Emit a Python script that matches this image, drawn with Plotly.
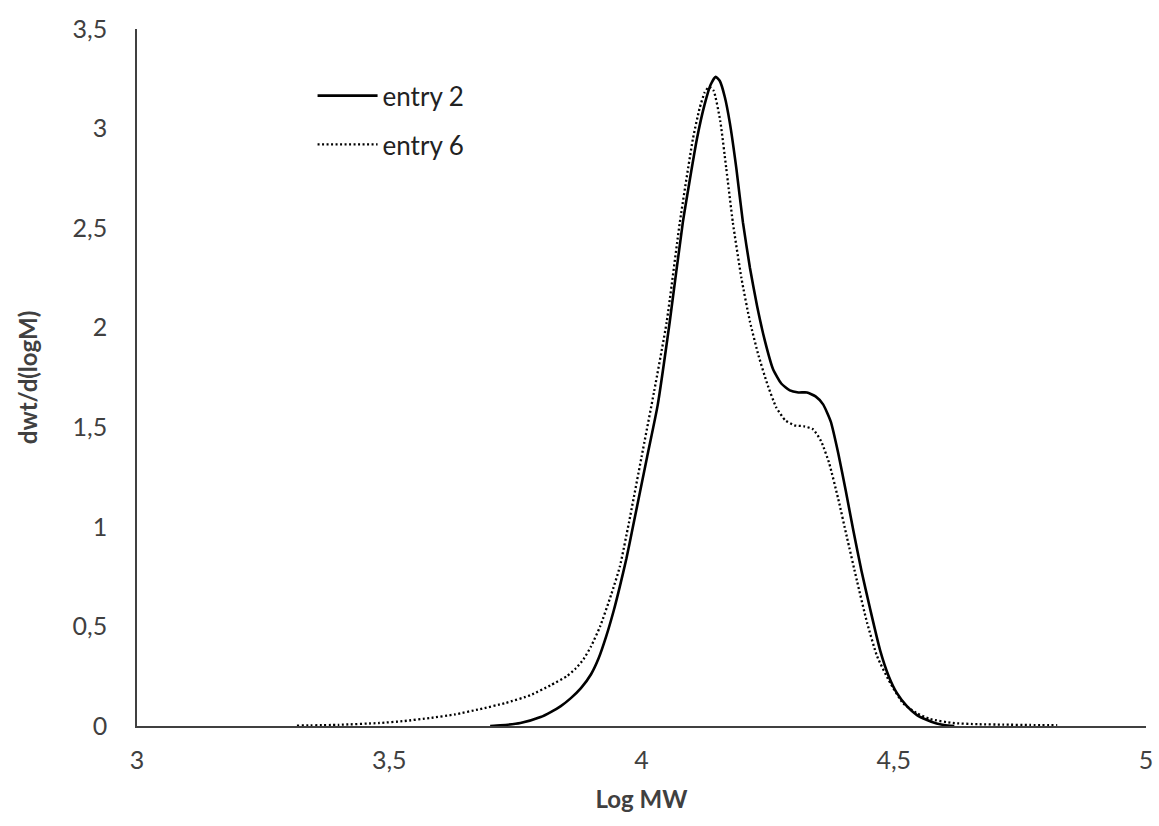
import plotly.graph_objects as go

# entry 2 (solid)
x_e2 = [3.70, 3.72, 3.76, 3.80, 3.82, 3.84, 3.86, 3.88, 3.90, 3.915, 3.93, 3.945, 3.957, 3.97, 3.983,
        4.011, 4.032, 4.056, 4.082, 4.110, 4.125, 4.137, 4.147, 4.155, 4.165, 4.175, 4.188, 4.201,
        4.215, 4.229, 4.245, 4.261, 4.277, 4.294, 4.311, 4.328, 4.345, 4.360, 4.375, 4.390, 4.405,
        4.420, 4.436, 4.453, 4.473, 4.490, 4.506, 4.526, 4.546, 4.566, 4.585, 4.600, 4.620]
y_e2 = [0.0, 0.003, 0.015, 0.045, 0.07, 0.10, 0.14, 0.19, 0.26, 0.34, 0.45, 0.58, 0.70, 0.84, 1.00,
        1.35, 1.61, 2.03, 2.53, 2.95, 3.12, 3.22, 3.26, 3.24, 3.16, 3.03, 2.80, 2.53,
        2.30, 2.11, 1.93, 1.79, 1.72, 1.685, 1.675, 1.675, 1.655, 1.615, 1.53, 1.37, 1.18,
        0.98, 0.78, 0.59, 0.38, 0.25, 0.166, 0.10, 0.055, 0.03, 0.012, 0.005, 0.0]

# entry 6 (dotted)
x_e6 = [3.317, 3.40, 3.48, 3.53, 3.58, 3.63, 3.68, 3.73, 3.78, 3.82, 3.852, 3.87, 3.885, 3.90, 3.918,
        3.94, 3.957, 3.975, 4.000, 4.025, 4.050, 4.076, 4.102, 4.115, 4.125, 4.134, 4.143, 4.156,
        4.168, 4.181, 4.198, 4.215, 4.232, 4.249, 4.267, 4.285, 4.303, 4.322, 4.340, 4.356, 4.372,
        4.390, 4.407, 4.427, 4.447, 4.467, 4.493, 4.518, 4.545, 4.572, 4.617, 4.667, 4.717, 4.77, 4.824]
y_e6 = [0.002, 0.006, 0.015, 0.025, 0.04, 0.058, 0.085, 0.115, 0.155, 0.205, 0.25, 0.29, 0.335, 0.40, 0.50,
        0.66, 0.80, 1.02, 1.35, 1.68, 2.03, 2.53, 2.95, 3.10, 3.18, 3.21, 3.19, 3.04,
        2.80, 2.53, 2.25, 2.03, 1.86, 1.72, 1.60, 1.535, 1.51, 1.505, 1.49, 1.43, 1.32,
        1.14, 0.95, 0.73, 0.52, 0.35, 0.216, 0.116, 0.065, 0.035, 0.015, 0.009, 0.007, 0.005, 0.004]

x_ticks = [3, 3.5, 4, 4.5, 5]
x_ticklabels = ["3", "3,5", "4", "4,5", "5"]
y_ticks = [0, 0.5, 1, 1.5, 2, 2.5, 3, 3.5]
y_ticklabels = ["0", "0,5", "1", "1,5", "2", "2,5", "3", "3,5"]

FONT = "Lato"
TXT = "#404040"

fig = go.Figure()
fig.add_trace(go.Scatter(x=x_e2, y=y_e2, mode="lines", name="entry 2", legendgroup="a",
                         line=dict(color="black", width=2.6, shape="spline", smoothing=0.5)))
fig.add_trace(go.Scatter(x=x_e6, y=y_e6, mode="lines", name="entry 6", legendgroup="b",
                         line=dict(color="black", width=2.3, dash="2px,2.5px", shape="spline", smoothing=0.5)))

fig.update_layout(
    width=1159, height=826,
    margin=dict(l=137, r=13, t=29, b=100),
    plot_bgcolor="white", paper_bgcolor="white",
    font=dict(family=FONT, size=25, color=TXT),
    showlegend=True,
    legend=dict(x=0.174, y=0.938, xanchor="left", yanchor="top", bgcolor="rgba(0,0,0,0)",
                font=dict(family=FONT, size=26, color="#222222"), tracegroupgap=12,
                itemwidth=60),
    xaxis=dict(range=[3, 5], tickvals=x_ticks, ticktext=x_ticklabels, showgrid=False,
               zeroline=False, showline=True, linecolor="#404040", linewidth=1.5,
               ticks="", ticklabelstandoff=11, automargin=False,
               title=dict(text="<b>Log MW</b>", font=dict(family=FONT, size=24, color=TXT), standoff=18)),
    yaxis=dict(range=[0, 3.5], tickvals=y_ticks, ticktext=y_ticklabels, showgrid=False,
               zeroline=False, showline=True, linecolor="#404040", linewidth=1.5,
               ticks="", ticklabelstandoff=23, automargin=False,
               title=dict(text="<b>dwt/d(logM)</b>", font=dict(family=FONT, size=24, color=TXT), standoff=28)),
)

fig.write_html("out.html", post_script="document.body.style.margin='0';",
               config={"displayModeBar": False})
